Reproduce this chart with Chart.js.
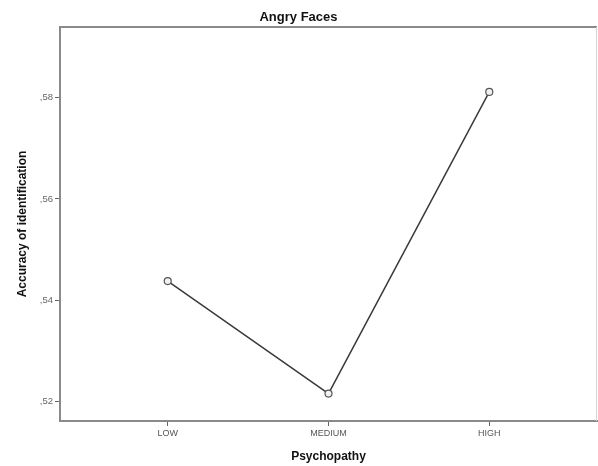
<!DOCTYPE html>
<html>
<head>
<meta charset="utf-8">
<script src="https://cdn.jsdelivr.net/npm/chart.js@4"></script>
<style>
  html, body { margin: 0; padding: 0; background: #fff; }
  #wrap { width: 598px; height: 466px; }
</style>
</head>
<body>
<div id="wrap"><canvas id="chart" width="598" height="466"></canvas></div>
<script>
const categories = ['LOW', 'MEDIUM', 'HIGH'];
const accuracy = [0.5438, 0.5216, 0.5811];
const yTicks = [0.52, 0.54, 0.56, 0.58];

const FONT = "'Liberation Sans', Arial, sans-serif";

// top and right edges of the plot box
const frame = {
  id: 'frame',
  beforeDatasetsDraw(chart) {
    const { ctx, chartArea: a } = chart;
    ctx.save();
    ctx.strokeStyle = '#8a8a8a';
    ctx.lineWidth = 2;
    ctx.beginPath();
    ctx.moveTo(a.left, a.top);
    ctx.lineTo(a.right, a.top);
    ctx.stroke();
    ctx.strokeStyle = '#d4d4d4';
    ctx.lineWidth = 1;
    ctx.beginPath();
    ctx.moveTo(a.right - 0.5, a.top);
    ctx.lineTo(a.right - 0.5, a.bottom);
    ctx.stroke();
    ctx.restore();
  }
};

new Chart(document.getElementById('chart').getContext('2d'), {
  type: 'line',
  data: {
    datasets: [{
      data: accuracy.map((v, i) => ({ x: i, y: v })),
      borderColor: '#3a3a3a',
      borderWidth: 1.5,
      pointRadius: 3.5,
      pointBackgroundColor: '#f2f2f2',
      pointBorderColor: '#555',
      pointBorderWidth: 1.2,
      tension: 0,
    }],
  },
  plugins: [frame],
  options: {
    responsive: false,
    animation: false,
    layout: { autoPadding: false, padding: { right: 1 } },
    plugins: {
      legend: { display: false },
      tooltip: { enabled: false },
      title: {
        display: true,
        text: 'Angry Faces',
        color: '#111',
        font: { family: FONT, size: 13, weight: 'bold' },
        padding: { top: 10, bottom: 1.4 },
      },
    },
    scales: {
      x: {
        type: 'linear',
        min: -0.67,
        max: 2.67,
        afterBuildTicks: (s) => { s.ticks = categories.map((_, i) => ({ value: i })); },
        afterFit: (s) => { s.height = 45; },
        ticks: {
          callback: (v) => categories[v],
          color: '#555',
          font: { family: FONT, size: 9 },
          padding: 2,
          maxRotation: 0,
        },
        grid: { drawOnChartArea: false, tickLength: 5, color: '#666' },
        border: { color: '#8a8a8a', width: 2 },
        title: {
          display: true,
          text: 'Psychopathy',
          color: '#111',
          font: { family: FONT, size: 12, weight: 'bold' },
          padding: { top: 0, bottom: 2 },
        },
      },
      y: {
        min: 0.5162,
        max: 0.5939,
        afterBuildTicks: (s) => { s.ticks = yTicks.map((v) => ({ value: v })); },
        afterFit: (s) => { s.width = 60; },
        ticks: {
          callback: (v) => ',' + v.toFixed(2).slice(2),
          color: '#666',
          font: { family: FONT, size: 9.5 },
          padding: 2,
        },
        grid: { drawOnChartArea: false, tickLength: 5, color: '#666' },
        border: { color: '#8a8a8a', width: 2 },
        title: {
          display: true,
          text: 'Accuracy of identification',
          color: '#111',
          font: { family: FONT, size: 12, weight: 'bold' },
          padding: { top: 15, bottom: 0 },
        },
      },
    },
  },
});
</script>
</body>
</html>
